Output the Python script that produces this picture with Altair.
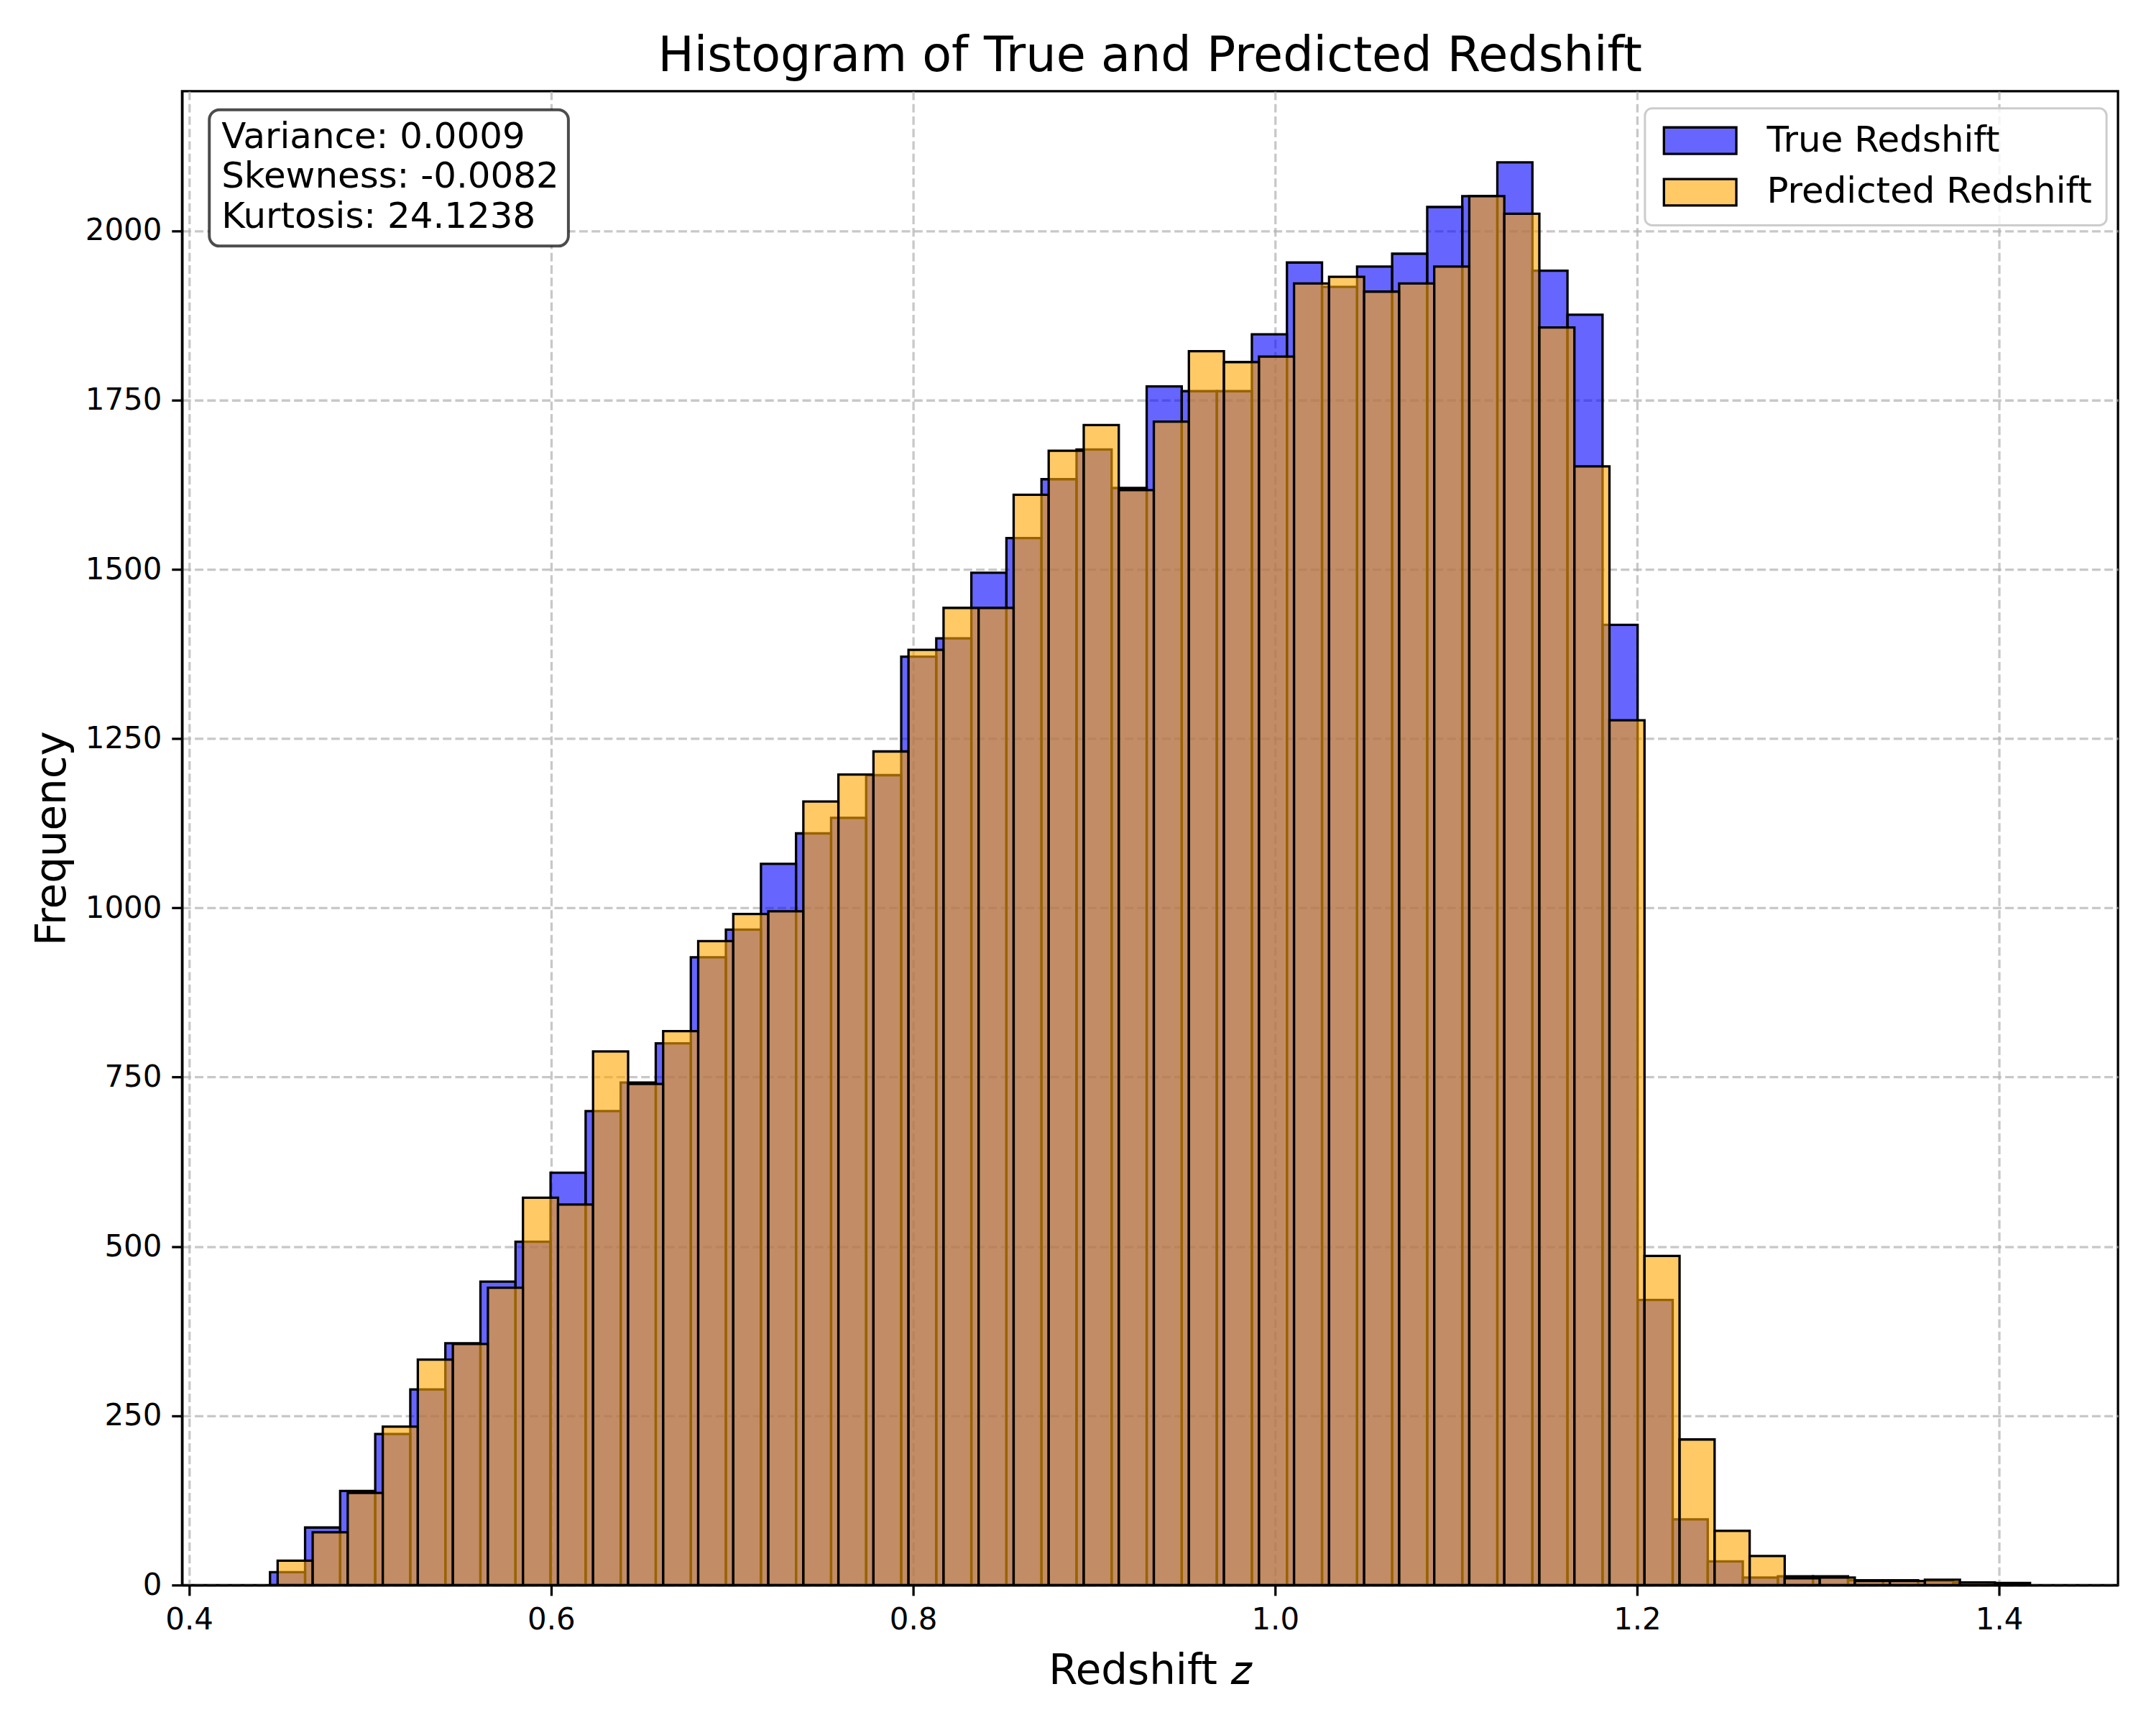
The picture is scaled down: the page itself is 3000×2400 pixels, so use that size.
import altair as alt
import numpy as np
import pandas as pd

# histogram counts, 50 bins each
n_bins = 50
true_range = [0.4447, 1.4134]
pred_range = [0.4489, 1.4171]

true_counts = [19, 85, 139, 223, 289, 357, 448, 507, 609, 700,
               742, 800, 927, 968, 1065, 1110, 1133, 1196, 1371, 1398,
               1495, 1546, 1633, 1677, 1620, 1770, 1763, 1763, 1847, 1953,
               1917, 1947, 1966, 2035, 2051, 2101, 1941, 1876, 1418, 421,
               97, 35, 11, 13, 13, 7, 7, 6, 4, 2]
pred_counts = [36, 78, 136, 234, 333, 356, 439, 572, 562, 788,
               740, 818, 951, 991, 995, 1157, 1197, 1231, 1381, 1443,
               1443, 1610, 1675, 1713, 1617, 1718, 1822, 1806, 1814, 1922,
               1932, 1910, 1922, 1947, 2051, 2025, 1857, 1652, 1277, 486,
               215, 80, 43, 10, 11, 6, 6, 8, 4, 3]

series_names = ["True Redshift", "Predicted Redshift"]
# blue / orange at alpha 0.6
series_colors = ["rgba(0,0,255,0.6)", "rgba(255,165,0,0.6)"]

stat_labels = ["Variance", "Skewness", "Kurtosis"]
stat_values = ["0.0009", "-0.0082", "24.1238"]

x_ticks = [0.4, 0.6, 0.8, 1.0, 1.2, 1.4]
y_ticks = [0, 250, 500, 750, 1000, 1250, 1500, 1750, 2000]


def hist_frame(name, rng, counts):
    edges = np.linspace(rng[0], rng[1], n_bins + 1)
    return pd.DataFrame({
        "series": name,
        "left": edges[:-1],
        "right": edges[1:],
        "count": counts,
        "base": 0,
    })


true_df = hist_frame(series_names[0], true_range, true_counts)
pred_df = hist_frame(series_names[1], pred_range, pred_counts)

FONT = "DejaVu Sans"

x_enc = alt.X(
    "left:Q",
    scale=alt.Scale(domain=[0.3961, 1.4657], nice=False, zero=False),
    axis=alt.Axis(values=x_ticks, format=".1f", title="Redshift 𝑧", titlePadding=22),
)
y_enc = alt.Y(
    "count:Q",
    scale=alt.Scale(domain=[0, 2206], nice=False),
    axis=alt.Axis(values=y_ticks, format="d", title="Frequency", titlePadding=16),
)
color_enc = alt.Color(
    "series:N",
    scale=alt.Scale(domain=series_names, range=series_colors),
    legend=alt.Legend(
        title=None, orient="none", legendX=2041, legendY=24,
        symbolType="M-2.73,-1H2.73V1H-2.73Z", symbolSize=1369, symbolOffset=32,
        symbolStrokeColor="black", symbolStrokeWidth=3.3,
        labelFontSize=50, labelFont=FONT, labelColor="black", labelOffset=68,
        labelLimit=1000,
        padding=20, rowPadding=20, fillColor="rgba(255,255,255,0.8)",
        strokeColor="#cccccc", cornerRadius=10,
    ),
)


def hist_layer(df):
    return alt.Chart(df).mark_rect(stroke="black", strokeWidth=3.3).encode(
        x=x_enc, x2="right", y=y_enc, y2="base", color=color_enc
    )


stats_df = pd.DataFrame({"k": [0]})
stats_text = [f"{l}: {v}" for l, v in zip(stat_labels, stat_values)]

box = alt.Chart(stats_df).mark_rect(
    cornerRadius=14, fill="white", stroke="black", strokeOpacity=0.7, strokeWidth=4
).encode(x=alt.value(38), x2=alt.value(539), y=alt.value(26), y2=alt.value(216))

box_text = alt.Chart(stats_df).mark_text(
    text=stats_text, align="left", baseline="alphabetic", fontSize=50,
    lineHeight=55.7, font=FONT, color="black"
).encode(x=alt.value(55), y=alt.value(79))

title = alt.TitleParams(
    "Histogram of True and Predicted Redshift",
    fontSize=67, font=FONT, fontWeight="normal", anchor="middle", frame="group",
    offset=10, baseline="bottom", color="black", dy=63,
)

chart = (
    alt.layer(hist_layer(true_df), hist_layer(pred_df), box, box_text)
    .properties(
        width=2701, height=2084, title=title,
        autosize=alt.AutoSizeParams(type="none"),
        padding={"left": 246, "top": 116, "right": 45, "bottom": 192},
    )
    .configure_view(stroke="black", strokeWidth=3.3)
    .configure_axis(
        labelFont=FONT, labelFontSize=42, labelColor="black", labelPadding=14,
        titleFont=FONT, titleFontSize=58, titleFontWeight="normal", titleColor="black",
        tickColor="black", tickWidth=3.3, tickSize=14.6,
        domainColor="black", domainWidth=3.3,
        gridColor="#b0b0b0", gridOpacity=0.7, gridDash=[12, 5.3], gridWidth=3.3,
        zindex=1,
    )
    .configure_legend(strokeWidth=3)
)

chart.save("out.html", embed_options={"renderer": "svg", "actions": False})
